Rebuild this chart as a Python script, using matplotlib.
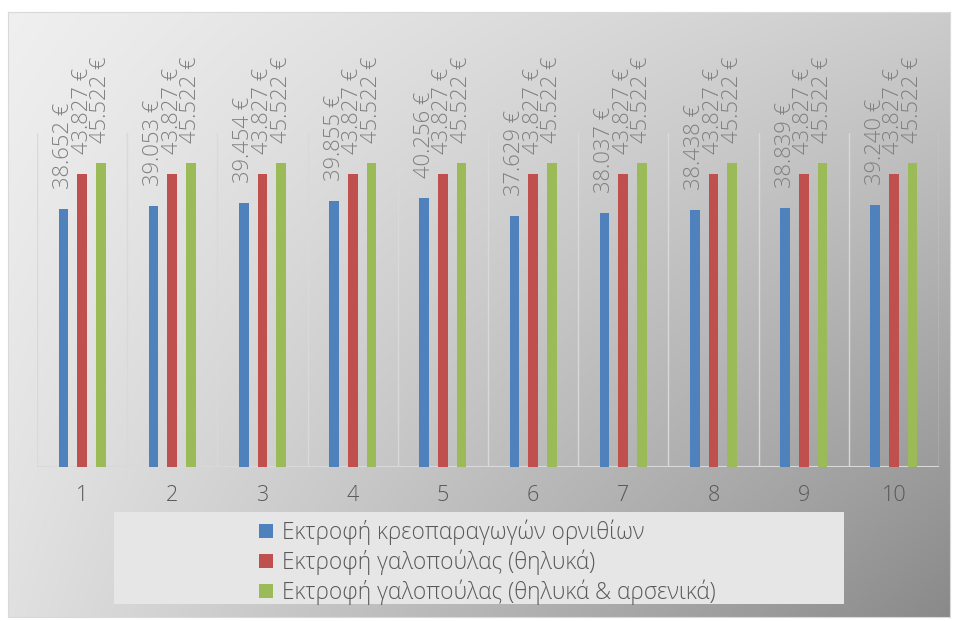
import numpy as np
import matplotlib.pyplot as plt
from matplotlib.patches import Rectangle

plt.rcParams['font.family'] = ['Open Sans', 'DejaVu Sans']
plt.rcParams['font.weight'] = 'light'

# data
categories = ['1', '2', '3', '4', '5', '6', '7', '8', '9', '10']
broilers = [38652, 39053, 39454, 39855, 40256, 37629, 38037, 38438, 38839, 39240]
turkey_f = [43827] * 10
turkey_fm = [45522] * 10
series_names = ['Εκτροφή κρεοπαραγωγών ορνιθίων',
                'Εκτροφή γαλοπούλας (θηλυκά)',
                'Εκτροφή γαλοπούλας (θηλυκά & αρσενικά)']
colors = ['#4f81bd', '#c0504d', '#9bbb59']

W, H = 955, 621
fig = plt.figure(figsize=(W / 100, H / 100), dpi=100)
fig.patch.set_facecolor('white')

# gradient background of the chart area (light top-left, dark bottom-right)
bg = fig.add_axes([8 / W, 1 - 617 / H, 942 / W, 605 / H])
u = np.linspace(0, 1, 300)
v = np.linspace(0, 1, 200)
U, V = np.meshgrid(u, v)
tl, tr, bl, br = 0.94, 0.80, 0.88, 0.54
G = tl * (1 - U) * (1 - V) + tr * U * (1 - V) + bl * (1 - U) * V + br * U * V
bg.imshow(np.dstack([G, G, G]), aspect='auto', extent=[0, 1, 1, 0], interpolation='bilinear')
bg.set_xlim(0, 1)
bg.set_ylim(1, 0)
bg.set_xticks([])
bg.set_yticks([])
for s in bg.spines.values():
    s.set_color('#d9d9d9')

ax = fig.add_axes([37 / W, 1 - 467 / H, 902 / W, 334 / H])
ax.patch.set_alpha(0)
x = np.arange(len(categories))
bw = 0.107
step = 0.207
for i, (vals, c, name) in enumerate(zip([broilers, turkey_f, turkey_fm], colors, series_names)):
    pos = x + (i - 1) * step
    ax.bar(pos, vals, width=bw, color=c, label=name, zorder=3)
    for px, val in zip(pos, vals):
        ax.annotate(f"{val:,}".replace(',', '.') + ' €', (px, val),
                    xytext=(0, 20), textcoords='offset pixels',
                    rotation=90, ha='center', va='bottom',
                    fontsize=15.8, color='#808080', zorder=4)

ax.set_xlim(-0.5, len(categories) - 0.5)
ax.set_ylim(0, 50000)
for b in np.arange(len(categories) + 1) - 0.5:
    ax.axvline(b, color='#d9d9d9', lw=1, zorder=1)
ax.axhline(0, color='#d9d9d9', lw=1.5, zorder=2)
ax.set_yticks([])
ax.set_xticks(x)
ax.set_xticklabels(categories, fontsize=15.5, color='#595959')
ax.tick_params(axis='x', length=0, pad=13)
for s in ax.spines.values():
    s.set_visible(False)

# legend box
fig.patches.append(Rectangle((114 / W, 1 - 604 / H), 730 / W, 92 / H,
                             transform=fig.transFigure, facecolor='#e6e6e6',
                             edgecolor='none', zorder=1))
leg = fig.legend(loc='upper left', bbox_to_anchor=(248 / W, 1 - 508 / H),
                 frameon=False, fontsize=16.3, labelcolor='#595959',
                 handlelength=0.62, handleheight=0.62, handletextpad=0.4,
                 labelspacing=0.2, borderpad=0)

fig.savefig('out.png', dpi=100)
